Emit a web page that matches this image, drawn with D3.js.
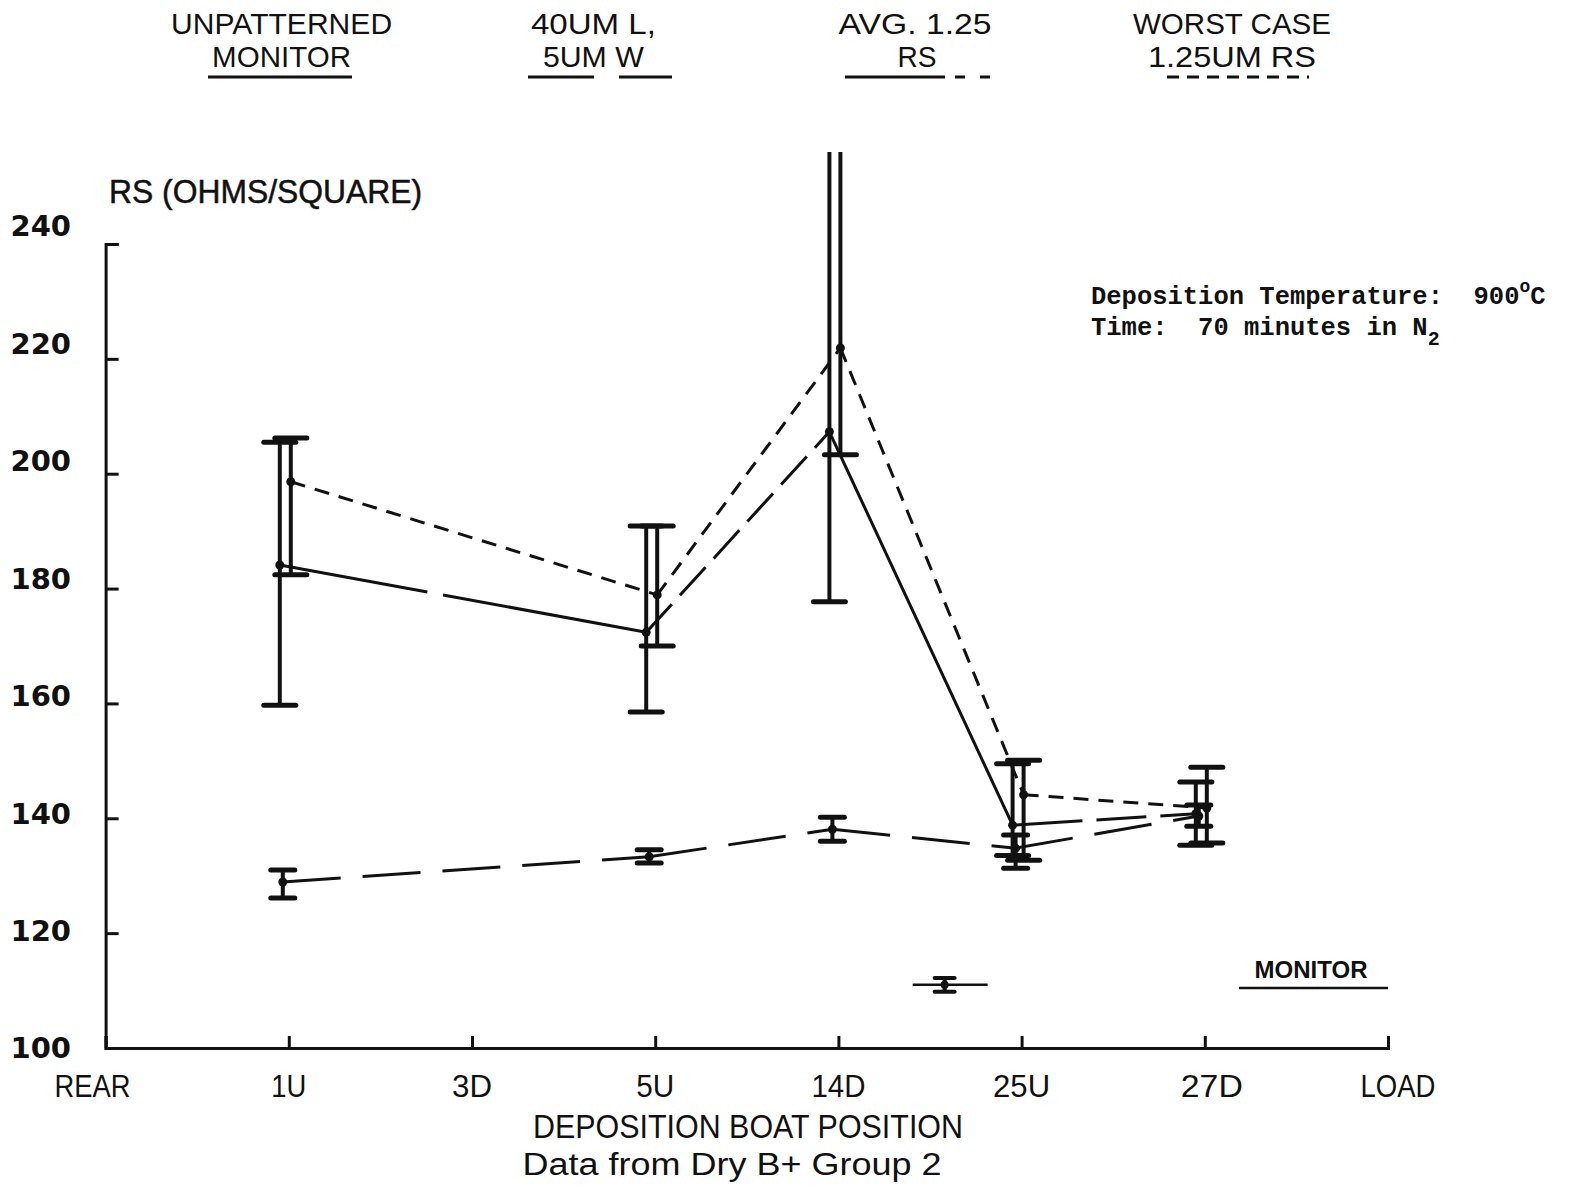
<!DOCTYPE html>
<html>
<head>
<meta charset="utf-8">
<script src="https://cdn.jsdelivr.net/npm/d3@7"></script>
<style>
  html, body { margin: 0; padding: 0; background: #fff; }
  svg { display: block; }
  text { fill: #111; }
</style>
</head>
<body>
<script>
// Boat positions along the furnace tube, rear to load end
const categories = ["REAR", "1U", "3D", "5U", "14D", "25U", "27D", "LOAD"];
const measured = ["1U", "5U", "14D", "25U", "27D"];
const yTicks = [100, 120, 140, 160, 180, 200, 220, 240];

// Sheet resistance (ohms/square): worst case 1.25um lines
const worstRs = [198.6, 178.9, 221.9, 144.1, 141.8];
const worstLo = [182.4, 170.0, 203.3, 132.7, 135.7];
const worstHi = [206.2, 190.9, 256.0, 150.1, 148.9];

// average 1.25um lines
const avgRs = [184.1, 172.4, 207.3, 138.8, 140.8];
const avgLo = [159.7, 158.5, 177.7, 133.5, 135.3];
const avgHi = [205.5, 190.9, 256.0, 149.5, 146.3];

// 40um long, 5um wide lines
const wideRs = [128.9, 133.3, 138.1, 134.8, 140.4];
const wideLo = [126.1, 132.2, 136.0, 131.3, 138.6];
const wideHi = [131.0, 134.5, 140.2, 137.1, 142.3];

// unpatterned monitor wafer (single reading, plotted between 14D and 25U)
const monitorAt = 4.58;
const monitorRs = 111.0, monitorLo = 109.8, monitorHi = 112.2;

const legendTop = ["UNPATTERNED", "40UM L,", "AVG. 1.25", "WORST CASE"];
const legendBottom = ["MONITOR", "5UM W", "RS", "1.25UM RS"];

const W = 1577, H = 1189;
const ink = "#111";
const condensed = "'Liberation Sans', Arimo, Arial, sans-serif";

const svg = d3.select("body").append("svg")
  .attr("width", W).attr("height", H)
  .attr("viewBox", `0 0 ${W} ${H}`);

// scales
const x = d3.scaleLinear().domain([0, categories.length - 1]).range([105.6, 1388]);
const xc = c => x(categories.indexOf(c));
const y = d3.scaleLinear().domain([100, 240]).range([1048, 244]);
// hand-lettered tick labels sit on a slightly wider spacing than the ticks
const yLabel = d3.scaleLinear().domain([100, 240]).range([1048, 226]);

// ---- axes ----
const yAxis = d3.axisRight(y).tickValues(yTicks).tickSize(13).tickSizeOuter(13).tickFormat("");
const gy = svg.append("g").attr("transform", `translate(${x(0)},0)`).call(yAxis);
gy.selectAll("path, line").attr("stroke", ink).attr("stroke-width", 3);

const xAxis = d3.axisTop(d3.scalePoint().domain(categories).range(x.range()))
  .tickSize(12).tickSizeOuter(12).tickFormat("");
const gx = svg.append("g").attr("transform", `translate(0,${y(100)})`).call(xAxis);
gx.selectAll("path, line").attr("stroke", ink).attr("stroke-width", 3);

// y tick labels
svg.append("g").selectAll("text").data(yTicks).join("text")
  .attr("x", 71).attr("y", d => yLabel(d)).attr("dy", "0.36em")
  .attr("text-anchor", "end")
  .style("font-family", "'DejaVu Sans', sans-serif")
  .style("font-weight", "bold").style("font-size", "29px")
  .text(d => d);

// x category labels
const xLabelWidth = {REAR: 76, "1U": 35, "3D": 40, "5U": 38, "14D": 54, "25U": 57, "27D": 62, LOAD: 75};
const xLabelShift = {REAR: -13, "27D": 7, LOAD: 10};
svg.append("g").selectAll("text").data(categories).join("text")
  .attr("x", d => xc(d) + (xLabelShift[d] || 0)).attr("y", 1097)
  .attr("text-anchor", "middle")
  .attr("textLength", d => xLabelWidth[d]).attr("lengthAdjust", "spacingAndGlyphs")
  .style("font-family", condensed).style("font-size", "32px")
  .text(d => d);

// axis titles
svg.append("text").attr("x", 748).attr("y", 1138).attr("text-anchor", "middle")
  .attr("textLength", 430).attr("lengthAdjust", "spacingAndGlyphs")
  .style("font-family", condensed).style("font-size", "33px")
  .text("DEPOSITION BOAT POSITION");
svg.append("text").attr("x", 732).attr("y", 1175).attr("text-anchor", "middle")
  .attr("textLength", 419).attr("lengthAdjust", "spacingAndGlyphs")
  .style("font-family", condensed).style("font-size", "31px")
  .text("Data from Dry B+ Group 2");
svg.append("text").attr("x", 109).attr("y", 203)
  .attr("textLength", 313).attr("lengthAdjust", "spacingAndGlyphs")
  .style("font-family", condensed).style("font-size", "33px")
  .style("stroke", ink).style("stroke-width", 0.5)
  .text("RS (OHMS/SQUARE)");

// ---- series ----
// dash patterns follow each leg of the hand-inked curves
const series = [
  {rs: wideRs,  lo: wideLo,  hi: wideHi,  dx: -6, dash: ["58 22", "58 22", "58 22", "58 22"], cap: 24},
  {rs: avgRs,   lo: avgLo,   hi: avgHi,   dx: -9, dash: ["150 16 400", "38 12", null, "70 14 50 14"], cap: 32},
  {rs: worstRs, lo: worstLo, hi: worstHi, dx: 2,  dash: ["15 10", "15 10", "15 10", "15 10"], cap: 32}
];

const plot = svg.append("g");
const line = d3.line();

series.forEach(s => {
  const pts = measured.map((c, i) => [xc(c) + s.dx, y(s.rs[i])]);
  plot.append("g").selectAll("path").data(d3.pairs(pts)).join("path")
    .attr("d", d => line(d))
    .attr("fill", "none").attr("stroke", ink)
    .attr("stroke-width", 3)
    .attr("stroke-dasharray", (d, i) => s.dash[i])
    .attr("stroke-linecap", "butt");
});

series.forEach(s => {
  const g = plot.append("g");
  measured.forEach((c, i) => {
    const cx = xc(c) + s.dx;
    const top = Math.min(s.hi[i], 256);
    g.append("line").attr("x1", cx).attr("x2", cx)
      .attr("y1", y(s.lo[i])).attr("y2", y(top))
      .attr("stroke", ink).attr("stroke-width", 4);
    // caps only where the bar ends inside the ruled range
    [s.lo[i], s.hi[i]].forEach(v => {
      if (v > 245) return;
      g.append("line").attr("x1", cx - s.cap / 2).attr("x2", cx + s.cap / 2)
        .attr("y1", y(v)).attr("y2", y(v))
        .attr("stroke", ink).attr("stroke-width", 5).attr("stroke-linecap", "round");
    });
    g.append("circle").attr("cx", cx).attr("cy", y(s.rs[i])).attr("r", 4.5).attr("fill", ink);
  });
});

// monitor wafer reading
const mx = x(monitorAt);
plot.append("line").attr("x1", mx - 32).attr("x2", mx + 43)
  .attr("y1", y(monitorRs)).attr("y2", y(monitorRs))
  .attr("stroke", ink).attr("stroke-width", 2.5);
plot.append("line").attr("x1", mx).attr("x2", mx)
  .attr("y1", y(monitorLo)).attr("y2", y(monitorHi))
  .attr("stroke", ink).attr("stroke-width", 4);
[monitorLo, monitorHi].forEach(v => {
  plot.append("line").attr("x1", mx - 10).attr("x2", mx + 10)
    .attr("y1", y(v)).attr("y2", y(v))
    .attr("stroke", ink).attr("stroke-width", 4).attr("stroke-linecap", "round");
});
plot.append("circle").attr("cx", mx).attr("cy", y(monitorRs)).attr("r", 4).attr("fill", ink);

svg.append("text").attr("x", 1311).attr("y", 978).attr("text-anchor", "middle")
  .attr("textLength", 113).attr("lengthAdjust", "spacingAndGlyphs")
  .style("font-family", condensed).style("font-weight", "bold").style("font-size", "24px")
  .text("MONITOR");
svg.append("line").attr("x1", 1239).attr("x2", 1388).attr("y1", 988).attr("y2", 988)
  .attr("stroke", ink).attr("stroke-width", 2.5);

// ---- key along the top ----
const keyX = [281.6, 593.4, 915, 1232];
const keyW1 = [221, 125, 153, 198];
const keyW2 = [139, 101, 39, 168];
const keyLine = [[208, 352], [528, 672], [845, 991], [1167, 1309]];
const keyDash = [null, "66 25 54", "100 10 10 15 10 50", "12 8"];
const key = svg.append("g");
legendTop.forEach((t, i) => {
  key.append("text").attr("x", keyX[i]).attr("y", 34).attr("text-anchor", "middle")
    .attr("textLength", keyW1[i]).attr("lengthAdjust", "spacingAndGlyphs")
    .style("font-family", condensed).style("font-size", "29px").text(t);
  key.append("text").attr("x", keyX[i] + (i === 2 ? 2 : 0)).attr("y", 67).attr("text-anchor", "middle")
    .attr("textLength", keyW2[i]).attr("lengthAdjust", "spacingAndGlyphs")
    .style("font-family", condensed).style("font-size", "29px").text(legendBottom[i]);
  key.append("line").attr("x1", keyLine[i][0]).attr("x2", keyLine[i][1])
    .attr("y1", 77).attr("y2", 77)
    .attr("stroke", ink).attr("stroke-width", 3)
    .attr("stroke-dasharray", keyDash[i]);
});

// ---- process conditions ----
const note = svg.append("g")
  .style("font-family", "'Liberation Mono', 'DejaVu Sans Mono', monospace")
  .style("font-weight", "bold").style("font-size", "25.5px")
  .style("white-space", "pre");
const n1 = note.append("text").attr("x", 1091).attr("y", 304).attr("xml:space", "preserve");
n1.append("tspan").text("Deposition Temperature:  900");
n1.append("tspan").attr("dy", -12).style("font-size", "18px").text("o");
n1.append("tspan").attr("dy", 12).text("C");
const n2 = note.append("text").attr("x", 1091).attr("y", 335).attr("xml:space", "preserve");
n2.append("tspan").text("Time:  70 minutes in N");
n2.append("tspan").attr("dy", 10).style("font-size", "20px").text("2");
</script>
</body>
</html>
